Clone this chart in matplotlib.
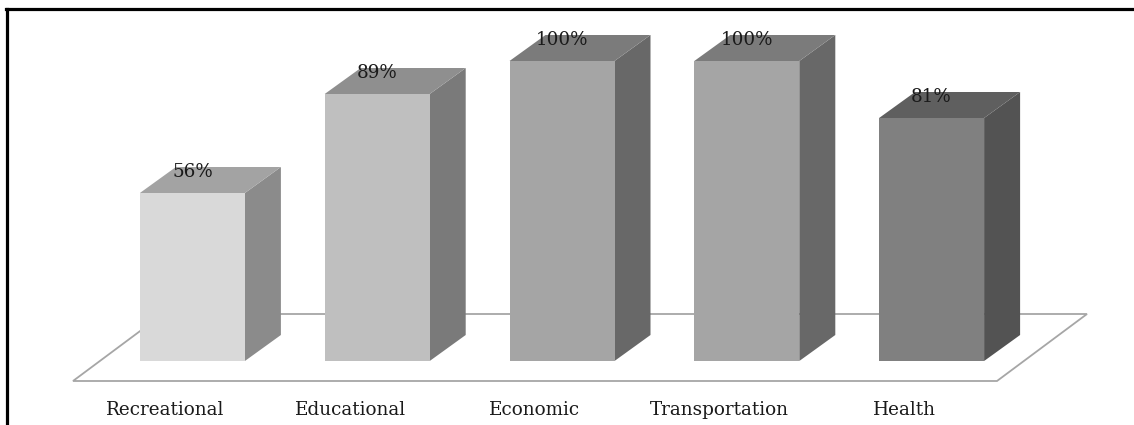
import matplotlib
matplotlib.use("Agg")
import matplotlib.pyplot as plt
from matplotlib.patches import Polygon
from matplotlib.lines import Line2D

# Data
categories = ["Recreational", "Educational", "Economic", "Transportation", "Health"]
values = [56, 89, 100, 100, 81]
labels = ["56%", "89%", "100%", "100%", "81%"]

# Shades for the front / top / side faces of each column
front_colors = ["#d9d9d9", "#bfbfbf", "#a5a5a5", "#a5a5a5", "#808080"]
top_colors = ["#a3a3a3", "#8f8f8f", "#7b7b7b", "#7b7b7b", "#5f5f5f"]
side_colors = ["#8b8b8b", "#7a7a7a", "#686868", "#686868", "#535353"]

W, H = 1134, 425
fig = plt.figure(figsize=(W / 100, H / 100), dpi=100)
ax = fig.add_axes([0, 0, 1, 1])

# Horizontal axis in pixels, vertical axis in percent (3 px per percent,
# 0 % sitting on the column bases).
PX = 3.0
BASE_PX = 361
ax.set_xlim(0, W)
ax.set_ylim((BASE_PX - H) / PX, BASE_PX / PX)
ax.axis("off")


def py(pixels):
    """Vertical pixel offset expressed in value units."""
    return pixels / PX


FONT = "DejaVu Serif"
TEXT_SIZE = 13.2

# Floor plane (perspective parallelogram)
floor_left, floor_right = 73, 997
floor_front = py(-20)
floor_dx, floor_dy = 90, py(67)
floor = Polygon(
    [(floor_left, floor_front), (floor_right, floor_front),
     (floor_right + floor_dx, floor_front + floor_dy),
     (floor_left + floor_dx, floor_front + floor_dy)],
    closed=True, facecolor="white", edgecolor="#a6a6a6", linewidth=1.3, zorder=1)
ax.add_patch(floor)

n = len(categories)
slot = (floor_right - floor_left) / n
bar_w = 105
depth_dx, depth_dy = 36, py(26)
shift = 27  # columns sit a little behind the front edge of the floor

for i, (cat, v) in enumerate(zip(categories, values)):
    cx_front = floor_left + slot * (i + 0.5)
    cx = cx_front + shift
    x0, x1 = cx - bar_w / 2, cx + bar_w / 2
    # side face
    ax.add_patch(Polygon(
        [(x1, 0), (x1 + depth_dx, depth_dy), (x1 + depth_dx, v + depth_dy), (x1, v)],
        closed=True, facecolor=side_colors[i], edgecolor="none", zorder=2))
    # top face
    ax.add_patch(Polygon(
        [(x0, v), (x1, v), (x1 + depth_dx, v + depth_dy), (x0 + depth_dx, v + depth_dy)],
        closed=True, facecolor=top_colors[i], edgecolor="none", zorder=2))
    # front face
    ax.add_patch(Polygon(
        [(x0, 0), (x1, 0), (x1, v), (x0, v)],
        closed=True, facecolor=front_colors[i], edgecolor="none", zorder=3))
    # value label on the top face
    ax.text(cx, v + py(21), labels[i], ha="center", va="center",
            fontsize=TEXT_SIZE, family=FONT, color="#1a1a1a", zorder=5)
    # category label under the floor
    ax.text(cx_front, py(-49), cat, ha="center", va="center",
            fontsize=TEXT_SIZE, family=FONT, color="#1a1a1a", zorder=5)

# Frame lines along the top and left edges
fig.add_artist(Line2D([6 / W, 1], [1 - 9 / H, 1 - 9 / H], transform=fig.transFigure,
                      color="black", linewidth=2.3))
fig.add_artist(Line2D([7 / W, 7 / W], [0, 1 - 9 / H], transform=fig.transFigure,
                      color="black", linewidth=2.3))

fig.savefig("out.png", dpi=100)
